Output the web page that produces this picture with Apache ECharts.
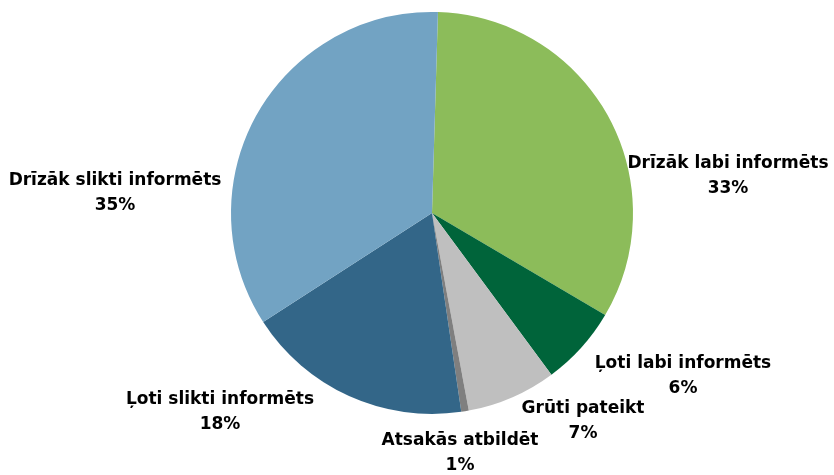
<!DOCTYPE html>
<html><head><meta charset="utf-8">
<script src="https://cdn.jsdelivr.net/npm/echarts@6/dist/echarts.min.js"></script>
<style>html,body{margin:0;padding:0;background:#fff}#c{width:834px;height:475px}</style>
</head><body><div id="c"></div>
<script>
const categories = ['Drīzāk labi informēts','Ļoti labi informēts','Grūti pateikt','Atsakās atbildēt','Ļoti slikti informēts','Drīzāk slikti informēts'];
const values = [33.0, 6.4, 7.2, 0.6, 18.2, 34.6];
const colors = ['#8CBC5A','#00643A','#BFBFBF','#7F7F7F','#336688','#72A3C3'];
// label block centres (layout only)
const labelPos = [[728,176],[683,376],[583,421],[460,453],[220,412],[115,193]];

const chart = echarts.init(document.getElementById('c'), null, {renderer:'canvas'});
chart.setOption({
  animation:false,
  series:[{
    type:'pie',
    center:[432,213],
    radius:201,
    startAngle:88.3,
    clockwise:true,
    avoidLabelOverlap:false,
    data: categories.map((n,i)=>({name:n,value:values[i],itemStyle:{color:colors[i]}})),
    itemStyle:{borderWidth:0},
    label:{
      show:true,
      position:'outside',
      formatter:p=>p.name+'\n'+Math.round(p.value)+'%',
      fontFamily:'DejaVu Sans, sans-serif',
      fontWeight:'bold',
      fontSize:17,
      lineHeight:25,
      color:'#000',
      align:'center'
    },
    labelLine:{show:false,length:10,length2:10},
    labelLayout:function(p){
      const q = labelPos[p.dataIndex];
      return {x:q[0], y:q[1], align:'center', verticalAlign:'middle', hideOverlap:false, moveOverlap:null};
    }
  }]
});
</script></body></html>
